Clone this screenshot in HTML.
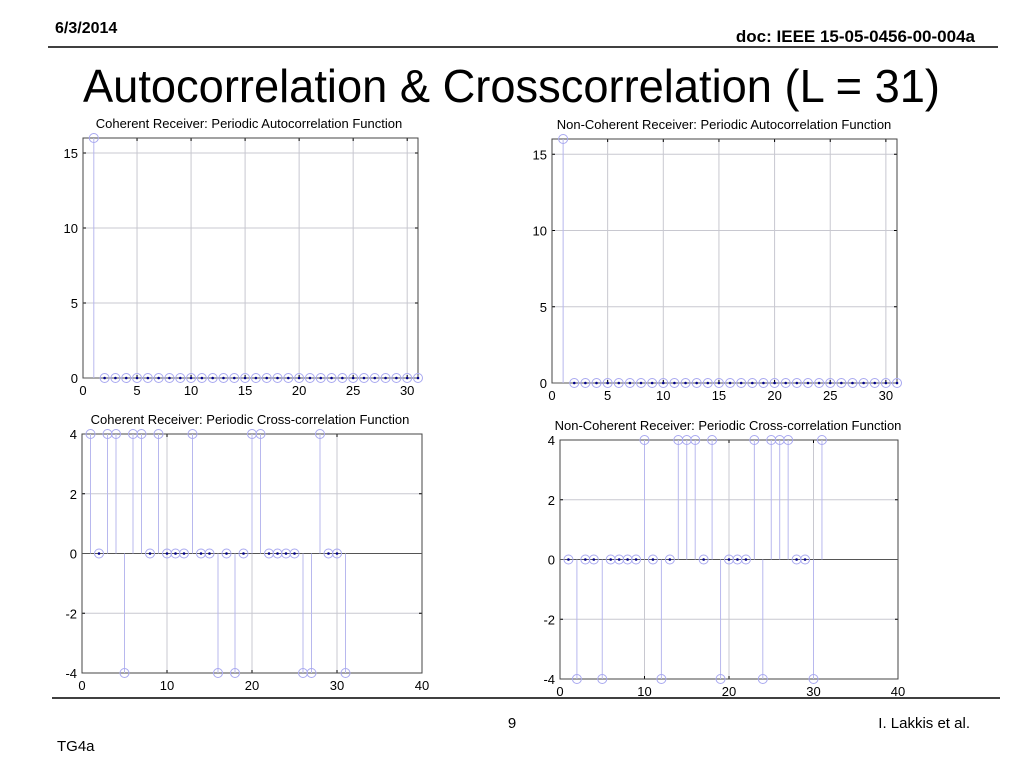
<!DOCTYPE html>
<html><head><meta charset="utf-8"><style>
html,body{margin:0;padding:0;background:#fff;}
svg{display:block;font-family:"Liberation Sans",Arial,sans-serif;}
</style></head><body>
<svg id="s" width="1024" height="768" viewBox="0 0 1024 768">
<text x="55" y="33" font-size="16" font-weight="bold">6/3/2014</text>
<text x="975" y="42" font-size="17" font-weight="bold" text-anchor="end">doc: IEEE 15-05-0456-00-004a</text>
<line x1="48" y1="47" x2="998" y2="47" stroke="#000" stroke-width="1.5"/>
<text x="83" y="102" font-size="46" textLength="857" lengthAdjust="spacingAndGlyphs">Autocorrelation &amp; Crosscorrelation (L = 31)</text>
<line x1="52" y1="698" x2="1000" y2="698" stroke="#000" stroke-width="1.5"/>
<text x="57" y="751" font-size="15">TG4a</text>
<text x="512" y="728" font-size="15" text-anchor="middle">9</text>
<text x="970" y="728" font-size="15" text-anchor="end">I. Lakkis et al.</text>
<g id="plots"></g>
</svg>
<script>
const autoCohX = [1,2,3,4,5,6,7,8,9,10,11,12,13,14,15,16,17,18,19,20,21,22,23,24,25,26,27,28,29,30,31];
const autoCohY = [16,0,0,0,0,0,0,0,0,0,0,0,0,0,0,0,0,0,0,0,0,0,0,0,0,0,0,0,0,0,0];
const autoNcY = [16,0,0,0,0,0,0,0,0,0,0,0,0,0,0,0,0,0,0,0,0,0,0,0,0,0,0,0,0,0,0];
const crossCohY = [4,0,4,4,-4,4,4,0,4,0,0,0,4,0,0,-4,0,-4,0,4,4,0,0,0,0,-4,-4,4,0,0,-4];
const crossNcY = [0,-4,0,0,-4,0,0,0,0,4,0,-4,0,4,4,4,0,4,-4,0,0,0,4,-4,4,4,4,0,0,-4,4];
const autoXTicks = [0,5,10,15,20,25,30];
const autoYTicks = [0,5,10,15];
const crossXTicks = [0,10,20,30,40];
const crossYTicks = [-4,-2,0,2,4];
const titles = ["Coherent Receiver: Periodic Autocorrelation Function","Non-Coherent Receiver: Periodic Autocorrelation Function","Coherent Receiver: Periodic Cross-correlation Function","Non-Coherent Receiver: Periodic Cross-correlation Function"];

const NS="http://www.w3.org/2000/svg";
const root=document.getElementById('plots');
function mk(tag,attrs,parent){const e=document.createElementNS(NS,tag);for(const k in attrs)e.setAttribute(k,attrs[k]);(parent||root).appendChild(e);return e;}

function plot(cfg){
  const g=mk('g',{});
  
  
  const sx=v=>cfg.L+(v-cfg.xmin)/(cfg.xmax-cfg.xmin)*(cfg.R-cfg.L);
  const sy=v=>cfg.B-(v-cfg.ymin)/(cfg.ymax-cfg.ymin)*(cfg.B-cfg.T);
  const t=mk('text',{x:cfg.tx,y:cfg.T-10,'font-size':13,'text-anchor':'middle'},g);
  t.textContent=cfg.title;
  
  
  cfg.xt.forEach(v=>{
    const x=sx(v);
    if(v>cfg.xmin&&v<cfg.xmax){const l=mk('line',{x1:x,x2:x,y1:cfg.T,y2:cfg.B,stroke:'#c8c8d0','stroke-width':1},g);
    
    }
    mk('line',{x1:x,x2:x,y1:cfg.B,y2:cfg.B-3,stroke:'#000'},g);
    mk('line',{x1:x,x2:x,y1:cfg.T,y2:cfg.T+3,stroke:'#000'},g);
    const tl=mk('text',{x:x,y:cfg.B+17,'font-size':13,'text-anchor':'middle'},g);
    tl.textContent=v;
    
    
  });
  cfg.yt.forEach(v=>{
    const y=sy(v);
    if(v>cfg.ymin&&v<cfg.ymax){const l=mk('line',{x1:cfg.L,x2:cfg.R,y1:y,y2:y,stroke:'#c8c8d0','stroke-width':1},g);
    
    }
    mk('line',{x1:cfg.L,x2:cfg.L+3,y1:y,y2:y,stroke:'#000'},g);
    mk('line',{x1:cfg.R,x2:cfg.R-3,y1:y,y2:y,stroke:'#000'},g);
    const tl=mk('text',{x:cfg.L-5,y:y+5,'font-size':13,'text-anchor':'end'},g);
    tl.textContent=v;
    
    
  });
  const box=mk('rect',{x:cfg.L,y:cfg.T,width:cfg.R-cfg.L,height:cfg.B-cfg.T,fill:'none',stroke:'#444','stroke-width':1},g);
  
  
  const y0=sy(0);
  const base=mk('line',{x1:cfg.L,x2:cfg.R,y1:y0,y2:y0,stroke:'#555','stroke-width':1},g);
  
  
  cfg.ys.forEach((v,i)=>{
    const x=sx(autoCohX[i]), y=sy(v);
    const st=mk('line',{x1:x,x2:x,y1:y0,y2:y,stroke:'#b8b8ee','stroke-width':1},g);
    
    
    const c=mk('circle',{cx:x,cy:y,r:4.5,fill:'none',stroke:'#a8a8f0','stroke-width':1},g);
    
    
    if(v===0){const d=mk('circle',{cx:x,cy:y,r:1.3,fill:'#00008b'},g);
    
    }
  });
}
plot({name:'coherent-autocorrelation-plot',title:titles[0],tx:249,L:83,R:418,T:138,B:378,xmin:0,xmax:31,ymin:0,ymax:16,xt:autoXTicks,yt:autoYTicks,ys:autoCohY});
plot({name:'noncoherent-autocorrelation-plot',title:titles[1],tx:724,L:552,R:897,T:139,B:383,xmin:0,xmax:31,ymin:0,ymax:16,xt:autoXTicks,yt:autoYTicks,ys:autoNcY});
plot({name:'coherent-crosscorrelation-plot',title:titles[2],tx:250,L:82,R:422,T:434,B:673,xmin:0,xmax:40,ymin:-4,ymax:4,xt:crossXTicks,yt:crossYTicks,ys:crossCohY});
plot({name:'noncoherent-crosscorrelation-plot',title:titles[3],tx:728,L:560,R:898,T:440,B:679,xmin:0,xmax:40,ymin:-4,ymax:4,xt:crossXTicks,yt:crossYTicks,ys:crossNcY});
</script>
</body></html>
